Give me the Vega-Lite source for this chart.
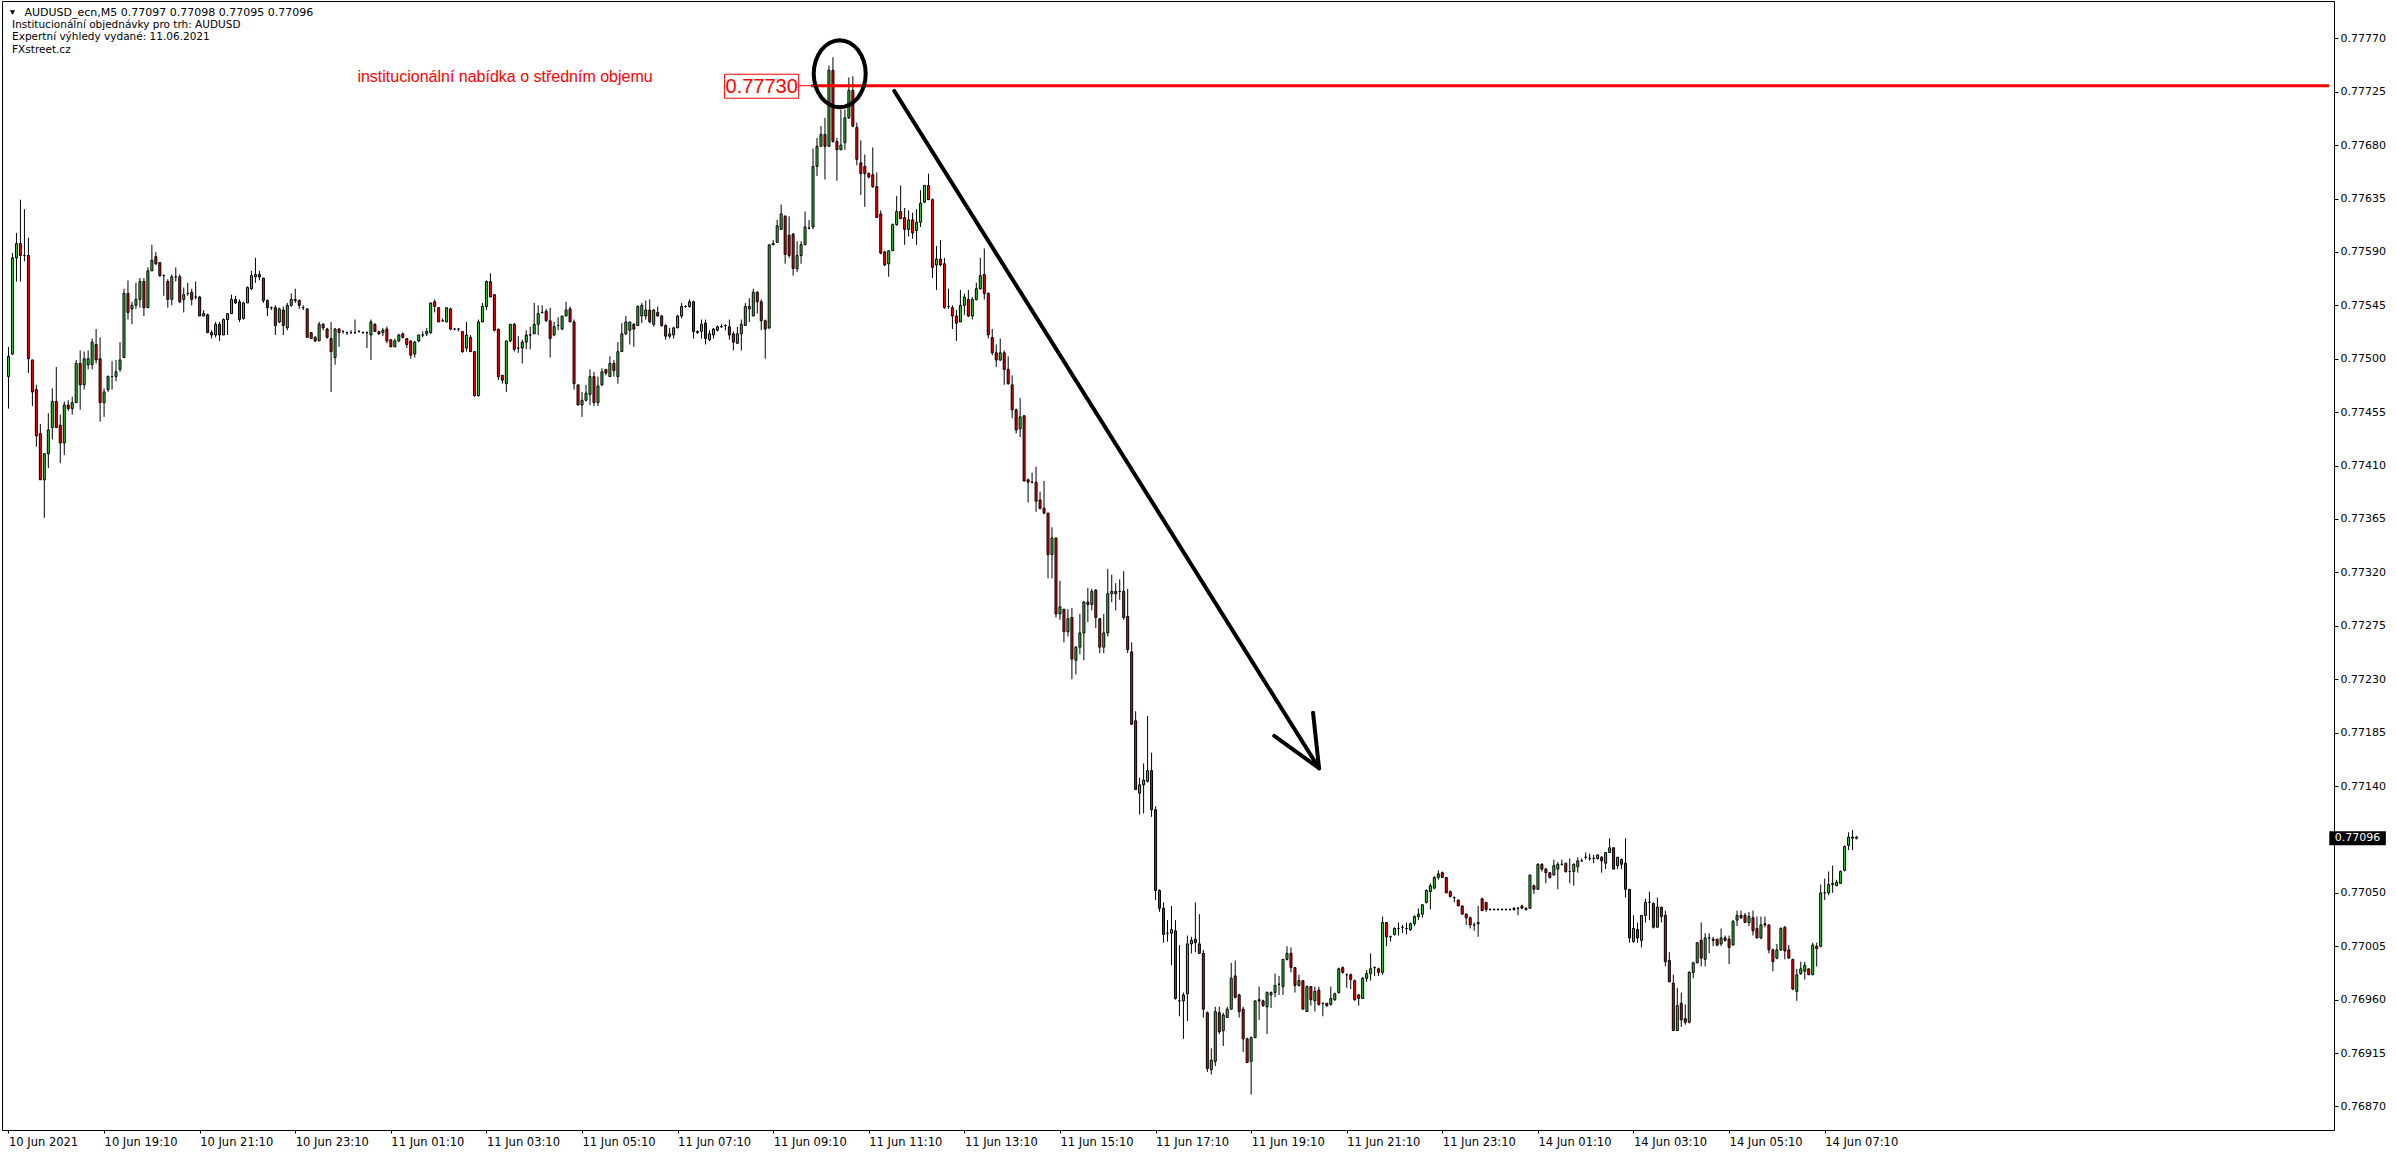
{
"$schema":"https://vega.github.io/schema/vega-lite/v6.json",
"width":2332,"height":1129,
"autosize":{"type":"none"},
"padding":{"left":2,"top":1,"right":62,"bottom":24},
"background":"white",
"config":{"view":{"stroke":"black","strokeWidth":1}},
"data":{"values":[
{"i":0,"o":0.77485,"h":0.7751,"l":0.77458,"c":0.77502},
{"i":1,"o":0.77504,"h":0.77589,"l":0.77503,"c":0.77585},
{"i":2,"o":0.77585,"h":0.77606,"l":0.77565,"c":0.77597},
{"i":3,"o":0.77597,"h":0.77634,"l":0.77565,"c":0.77587},
{"i":4,"o":0.77587,"h":0.77626,"l":0.77582,"c":0.77587},
{"i":5,"o":0.77587,"h":0.77602,"l":0.77488,"c":0.775},
{"i":6,"o":0.77499,"h":0.77499,"l":0.7746,"c":0.77472},
{"i":7,"o":0.77474,"h":0.77478,"l":0.77426,"c":0.77435},
{"i":8,"o":0.77437,"h":0.77445,"l":0.77398,"c":0.77398},
{"i":9,"o":0.77398,"h":0.7742,"l":0.77366,"c":0.7742},
{"i":10,"o":0.7742,"h":0.77454,"l":0.77408,"c":0.7744},
{"i":11,"o":0.77442,"h":0.77475,"l":0.77432,"c":0.77464},
{"i":12,"o":0.77464,"h":0.77493,"l":0.77442,"c":0.77442},
{"i":13,"o":0.77444,"h":0.77453,"l":0.77412,"c":0.77429},
{"i":14,"o":0.77429,"h":0.77464,"l":0.77419,"c":0.77461},
{"i":15,"o":0.77461,"h":0.77465,"l":0.77456,"c":0.77458},
{"i":16,"o":0.77458,"h":0.77468,"l":0.77453,"c":0.77463},
{"i":17,"o":0.77463,"h":0.77499,"l":0.77463,"c":0.77496},
{"i":18,"o":0.77496,"h":0.77507,"l":0.77457,"c":0.77478},
{"i":19,"o":0.77478,"h":0.77506,"l":0.77474,"c":0.775},
{"i":20,"o":0.77495,"h":0.77507,"l":0.77491,"c":0.775},
{"i":21,"o":0.77495,"h":0.77517,"l":0.77491,"c":0.77514},
{"i":22,"o":0.77512,"h":0.77525,"l":0.77496,"c":0.77499},
{"i":23,"o":0.775,"h":0.77518,"l":0.77447,"c":0.77463},
{"i":24,"o":0.77463,"h":0.77475,"l":0.77451,"c":0.77472},
{"i":25,"o":0.77474,"h":0.77486,"l":0.77472,"c":0.77485},
{"i":26,"o":0.77485,"h":0.77498,"l":0.77474,"c":0.77485},
{"i":27,"o":0.77485,"h":0.77499,"l":0.77481,"c":0.77489},
{"i":28,"o":0.77491,"h":0.77514,"l":0.77489,"c":0.77499},
{"i":29,"o":0.77501,"h":0.77559,"l":0.77501,"c":0.77555},
{"i":30,"o":0.77555,"h":0.77566,"l":0.77533,"c":0.77539},
{"i":31,"o":0.77542,"h":0.77548,"l":0.77529,"c":0.77545},
{"i":32,"o":0.77545,"h":0.77564,"l":0.77542,"c":0.7755},
{"i":33,"o":0.7755,"h":0.77568,"l":0.77543,"c":0.77565},
{"i":34,"o":0.77565,"h":0.77568,"l":0.77536,"c":0.77543},
{"i":35,"o":0.77543,"h":0.77577,"l":0.77543,"c":0.77574},
{"i":36,"o":0.77574,"h":0.77596,"l":0.77574,"c":0.77583},
{"i":37,"o":0.77586,"h":0.7759,"l":0.77579,"c":0.7758},
{"i":38,"o":0.77581,"h":0.77581,"l":0.77569,"c":0.7757},
{"i":39,"o":0.7757,"h":0.77571,"l":0.77553,"c":0.7757},
{"i":40,"o":0.77565,"h":0.77567,"l":0.77543,"c":0.7755},
{"i":41,"o":0.7755,"h":0.77571,"l":0.77545,"c":0.77569},
{"i":42,"o":0.77569,"h":0.77577,"l":0.77565,"c":0.77569},
{"i":43,"o":0.77569,"h":0.77571,"l":0.77547,"c":0.77548},
{"i":44,"o":0.7755,"h":0.7756,"l":0.77539,"c":0.77554},
{"i":45,"o":0.77555,"h":0.77564,"l":0.77553,"c":0.77555},
{"i":46,"o":0.77556,"h":0.77559,"l":0.77545,"c":0.7755},
{"i":47,"o":0.77552,"h":0.77565,"l":0.7755,"c":0.77552},
{"i":48,"o":0.77552,"h":0.77553,"l":0.77536,"c":0.77536},
{"i":49,"o":0.77536,"h":0.77541,"l":0.77536,"c":0.77538},
{"i":50,"o":0.77537,"h":0.77538,"l":0.77522,"c":0.77522},
{"i":51,"o":0.77522,"h":0.77524,"l":0.77517,"c":0.7752},
{"i":52,"o":0.7752,"h":0.77531,"l":0.77518,"c":0.77529},
{"i":53,"o":0.77529,"h":0.77531,"l":0.77515,"c":0.7752},
{"i":54,"o":0.7752,"h":0.77534,"l":0.7752,"c":0.77533},
{"i":55,"o":0.77533,"h":0.77538,"l":0.7752,"c":0.77538},
{"i":56,"o":0.77538,"h":0.77554,"l":0.77538,"c":0.7755},
{"i":57,"o":0.7755,"h":0.77553,"l":0.77546,"c":0.77547},
{"i":58,"o":0.77548,"h":0.7755,"l":0.77531,"c":0.77533},
{"i":59,"o":0.77534,"h":0.77548,"l":0.77533,"c":0.77547},
{"i":60,"o":0.77547,"h":0.77561,"l":0.77547,"c":0.7756},
{"i":61,"o":0.77559,"h":0.77574,"l":0.77558,"c":0.7757},
{"i":62,"o":0.77569,"h":0.77585,"l":0.77564,"c":0.77571},
{"i":63,"o":0.77571,"h":0.77574,"l":0.77566,"c":0.77569},
{"i":64,"o":0.77568,"h":0.77568,"l":0.77547,"c":0.77549},
{"i":65,"o":0.77549,"h":0.7755,"l":0.77536,"c":0.77543},
{"i":66,"o":0.77543,"h":0.77544,"l":0.77541,"c":0.77543},
{"i":67,"o":0.77543,"h":0.77545,"l":0.7752,"c":0.77528},
{"i":68,"o":0.77531,"h":0.77543,"l":0.7753,"c":0.77542},
{"i":69,"o":0.77541,"h":0.77544,"l":0.7752,"c":0.77528},
{"i":70,"o":0.77526,"h":0.77547,"l":0.77524,"c":0.77545},
{"i":71,"o":0.77545,"h":0.77555,"l":0.77544,"c":0.7755},
{"i":72,"o":0.7755,"h":0.77559,"l":0.77547,"c":0.77549},
{"i":73,"o":0.77549,"h":0.7755,"l":0.77542,"c":0.77545},
{"i":74,"o":0.77543,"h":0.77545,"l":0.77541,"c":0.77543},
{"i":75,"o":0.77542,"h":0.77542,"l":0.77518,"c":0.77518},
{"i":76,"o":0.77522,"h":0.77522,"l":0.77517,"c":0.77517},
{"i":77,"o":0.77518,"h":0.77519,"l":0.77514,"c":0.77515},
{"i":78,"o":0.77515,"h":0.77531,"l":0.77515,"c":0.77529},
{"i":79,"o":0.77529,"h":0.7753,"l":0.77524,"c":0.77526},
{"i":80,"o":0.77525,"h":0.77526,"l":0.77517,"c":0.77518},
{"i":81,"o":0.77517,"h":0.77531,"l":0.77472,"c":0.77506},
{"i":82,"o":0.77501,"h":0.77526,"l":0.77495,"c":0.77525},
{"i":83,"o":0.77525,"h":0.77526,"l":0.7751,"c":0.77522},
{"i":84,"o":0.77523,"h":0.77524,"l":0.77521,"c":0.77523},
{"i":85,"o":0.77522,"h":0.77523,"l":0.7752,"c":0.77522},
{"i":86,"o":0.77522,"h":0.77524,"l":0.77521,"c":0.77522},
{"i":87,"o":0.77522,"h":0.77533,"l":0.77521,"c":0.77522},
{"i":88,"o":0.77523,"h":0.77524,"l":0.77522,"c":0.77523},
{"i":89,"o":0.77522,"h":0.77523,"l":0.77521,"c":0.77522},
{"i":90,"o":0.77522,"h":0.77523,"l":0.77509,"c":0.77522},
{"i":91,"o":0.7752,"h":0.77533,"l":0.77499,"c":0.77531},
{"i":92,"o":0.77529,"h":0.7753,"l":0.77523,"c":0.77523},
{"i":93,"o":0.77523,"h":0.77523,"l":0.7752,"c":0.77521},
{"i":94,"o":0.77522,"h":0.77526,"l":0.77519,"c":0.77524},
{"i":95,"o":0.77525,"h":0.77527,"l":0.77513,"c":0.77515},
{"i":96,"o":0.77516,"h":0.77516,"l":0.7751,"c":0.7751},
{"i":97,"o":0.7751,"h":0.77517,"l":0.7751,"c":0.77515},
{"i":98,"o":0.77515,"h":0.77521,"l":0.77514,"c":0.7752},
{"i":99,"o":0.77521,"h":0.77522,"l":0.77517,"c":0.77518},
{"i":100,"o":0.77517,"h":0.77517,"l":0.77509,"c":0.77512},
{"i":101,"o":0.77515,"h":0.77515,"l":0.775,"c":0.77503},
{"i":102,"o":0.77504,"h":0.77515,"l":0.77501,"c":0.77514},
{"i":103,"o":0.77515,"h":0.7752,"l":0.77514,"c":0.7752},
{"i":104,"o":0.7752,"h":0.77523,"l":0.77518,"c":0.7752},
{"i":105,"o":0.77521,"h":0.77526,"l":0.77519,"c":0.77523},
{"i":106,"o":0.77522,"h":0.77547,"l":0.77521,"c":0.77547},
{"i":107,"o":0.77548,"h":0.7755,"l":0.77539,"c":0.77544},
{"i":108,"o":0.77543,"h":0.77543,"l":0.77531,"c":0.77531},
{"i":109,"o":0.77532,"h":0.77534,"l":0.77531,"c":0.77532},
{"i":110,"o":0.77531,"h":0.77543,"l":0.77531,"c":0.77543},
{"i":111,"o":0.77542,"h":0.77543,"l":0.77524,"c":0.77525},
{"i":112,"o":0.77525,"h":0.77526,"l":0.77524,"c":0.77525},
{"i":113,"o":0.77525,"h":0.77526,"l":0.77523,"c":0.77525},
{"i":114,"o":0.77523,"h":0.77523,"l":0.77505,"c":0.77506},
{"i":115,"o":0.77509,"h":0.77531,"l":0.77506,"c":0.7752},
{"i":116,"o":0.77518,"h":0.7752,"l":0.77506,"c":0.77506},
{"i":117,"o":0.77506,"h":0.77506,"l":0.77468,"c":0.77469},
{"i":118,"o":0.77469,"h":0.77533,"l":0.77468,"c":0.77531},
{"i":119,"o":0.77531,"h":0.77547,"l":0.77531,"c":0.77544},
{"i":120,"o":0.77544,"h":0.77566,"l":0.77541,"c":0.77565},
{"i":121,"o":0.77565,"h":0.77572,"l":0.77552,"c":0.77552},
{"i":122,"o":0.77554,"h":0.77554,"l":0.77523,"c":0.77524},
{"i":123,"o":0.77525,"h":0.77525,"l":0.77482,"c":0.77485},
{"i":124,"o":0.77486,"h":0.77486,"l":0.77479,"c":0.77482},
{"i":125,"o":0.77479,"h":0.77515,"l":0.77472,"c":0.77515},
{"i":126,"o":0.77515,"h":0.77529,"l":0.77514,"c":0.77529},
{"i":127,"o":0.77529,"h":0.7753,"l":0.77506,"c":0.77508},
{"i":128,"o":0.77509,"h":0.77519,"l":0.77505,"c":0.77509},
{"i":129,"o":0.77509,"h":0.77516,"l":0.77496,"c":0.77514},
{"i":130,"o":0.77514,"h":0.77524,"l":0.77508,"c":0.7752},
{"i":131,"o":0.7752,"h":0.77527,"l":0.77508,"c":0.7752},
{"i":132,"o":0.77521,"h":0.77547,"l":0.77521,"c":0.77529},
{"i":133,"o":0.77529,"h":0.77545,"l":0.7752,"c":0.77538},
{"i":134,"o":0.77539,"h":0.77545,"l":0.77538,"c":0.77539},
{"i":135,"o":0.7754,"h":0.77542,"l":0.77531,"c":0.77532},
{"i":136,"o":0.77532,"h":0.77543,"l":0.77501,"c":0.77517},
{"i":137,"o":0.7752,"h":0.77531,"l":0.77519,"c":0.77527},
{"i":138,"o":0.77528,"h":0.77535,"l":0.77524,"c":0.77528},
{"i":139,"o":0.77525,"h":0.77536,"l":0.77524,"c":0.77536},
{"i":140,"o":0.77536,"h":0.77548,"l":0.77536,"c":0.77541},
{"i":141,"o":0.77542,"h":0.77544,"l":0.77531,"c":0.77531},
{"i":142,"o":0.77531,"h":0.77533,"l":0.77474,"c":0.77479},
{"i":143,"o":0.77478,"h":0.77478,"l":0.77461,"c":0.77461},
{"i":144,"o":0.77461,"h":0.77472,"l":0.77451,"c":0.77465},
{"i":145,"o":0.77465,"h":0.77478,"l":0.77464,"c":0.77471},
{"i":146,"o":0.7747,"h":0.77491,"l":0.77461,"c":0.77485},
{"i":147,"o":0.77485,"h":0.77489,"l":0.7746,"c":0.77463},
{"i":148,"o":0.77463,"h":0.77485,"l":0.7746,"c":0.77477},
{"i":149,"o":0.77478,"h":0.77492,"l":0.77477,"c":0.77489},
{"i":150,"o":0.77491,"h":0.77491,"l":0.77486,"c":0.77488},
{"i":151,"o":0.77485,"h":0.77502,"l":0.77485,"c":0.77496},
{"i":152,"o":0.77496,"h":0.77499,"l":0.77485,"c":0.7749},
{"i":153,"o":0.77485,"h":0.77514,"l":0.77479,"c":0.77506},
{"i":154,"o":0.77506,"h":0.7753,"l":0.77506,"c":0.77521},
{"i":155,"o":0.77521,"h":0.77536,"l":0.7752,"c":0.77531},
{"i":156,"o":0.77524,"h":0.77531,"l":0.77512,"c":0.77531},
{"i":157,"o":0.77529,"h":0.7753,"l":0.7751,"c":0.77525},
{"i":158,"o":0.77528,"h":0.77545,"l":0.77528,"c":0.77544},
{"i":159,"o":0.77536,"h":0.77547,"l":0.7753,"c":0.77545},
{"i":160,"o":0.77536,"h":0.77549,"l":0.77533,"c":0.77541},
{"i":161,"o":0.77541,"h":0.7755,"l":0.7753,"c":0.77531},
{"i":162,"o":0.77529,"h":0.77542,"l":0.77527,"c":0.77541},
{"i":163,"o":0.77539,"h":0.77544,"l":0.77536,"c":0.77536},
{"i":164,"o":0.77536,"h":0.77537,"l":0.77527,"c":0.77528},
{"i":165,"o":0.77528,"h":0.77529,"l":0.77516,"c":0.77519},
{"i":166,"o":0.77519,"h":0.77526,"l":0.77517,"c":0.77521},
{"i":167,"o":0.7752,"h":0.77527,"l":0.77517,"c":0.77526},
{"i":168,"o":0.77526,"h":0.77537,"l":0.77526,"c":0.77536},
{"i":169,"o":0.77536,"h":0.77547,"l":0.77534,"c":0.77544},
{"i":170,"o":0.77544,"h":0.77545,"l":0.77543,"c":0.77544},
{"i":171,"o":0.77544,"h":0.7755,"l":0.77543,"c":0.77548},
{"i":172,"o":0.77548,"h":0.77549,"l":0.77517,"c":0.77523},
{"i":173,"o":0.77523,"h":0.77524,"l":0.77521,"c":0.77522},
{"i":174,"o":0.77523,"h":0.77533,"l":0.77517,"c":0.77529},
{"i":175,"o":0.7753,"h":0.77533,"l":0.77512,"c":0.77517},
{"i":176,"o":0.77516,"h":0.77524,"l":0.77515,"c":0.77521},
{"i":177,"o":0.7752,"h":0.77526,"l":0.77517,"c":0.77525},
{"i":178,"o":0.77524,"h":0.77528,"l":0.77523,"c":0.77527},
{"i":179,"o":0.77527,"h":0.77529,"l":0.77526,"c":0.77527},
{"i":180,"o":0.77528,"h":0.77529,"l":0.77524,"c":0.77528},
{"i":181,"o":0.77527,"h":0.77533,"l":0.77516,"c":0.7752},
{"i":182,"o":0.77521,"h":0.77523,"l":0.77507,"c":0.77514},
{"i":183,"o":0.77513,"h":0.77527,"l":0.77513,"c":0.77521},
{"i":184,"o":0.77521,"h":0.77533,"l":0.77507,"c":0.77529},
{"i":185,"o":0.77528,"h":0.77547,"l":0.77528,"c":0.77544},
{"i":186,"o":0.77542,"h":0.77551,"l":0.77531,"c":0.77544},
{"i":187,"o":0.77536,"h":0.77559,"l":0.77536,"c":0.77556},
{"i":188,"o":0.77556,"h":0.77557,"l":0.77538,"c":0.77548},
{"i":189,"o":0.77548,"h":0.7755,"l":0.77524,"c":0.77532},
{"i":190,"o":0.77532,"h":0.77533,"l":0.775,"c":0.77525},
{"i":191,"o":0.77526,"h":0.77596,"l":0.77525,"c":0.77596},
{"i":192,"o":0.77596,"h":0.776,"l":0.77596,"c":0.77597},
{"i":193,"o":0.77598,"h":0.77617,"l":0.77598,"c":0.77612},
{"i":194,"o":0.77609,"h":0.7763,"l":0.77609,"c":0.77622},
{"i":195,"o":0.7762,"h":0.77621,"l":0.7758,"c":0.77588},
{"i":196,"o":0.77604,"h":0.7762,"l":0.77585,"c":0.77587},
{"i":197,"o":0.77605,"h":0.77606,"l":0.7757,"c":0.77576},
{"i":198,"o":0.77576,"h":0.77599,"l":0.77573,"c":0.77587},
{"i":199,"o":0.77587,"h":0.77599,"l":0.7758,"c":0.77596},
{"i":200,"o":0.77596,"h":0.77624,"l":0.77596,"c":0.77611},
{"i":201,"o":0.7761,"h":0.77617,"l":0.77609,"c":0.7761},
{"i":202,"o":0.77611,"h":0.77677,"l":0.77609,"c":0.77662},
{"i":203,"o":0.77662,"h":0.77686,"l":0.77654,"c":0.77679},
{"i":204,"o":0.77679,"h":0.77696,"l":0.77679,"c":0.77689},
{"i":205,"o":0.77689,"h":0.77703,"l":0.77651,"c":0.77679},
{"i":206,"o":0.77679,"h":0.77747,"l":0.77679,"c":0.77743},
{"i":207,"o":0.77743,"h":0.77754,"l":0.77682,"c":0.77683},
{"i":208,"o":0.77683,"h":0.77686,"l":0.7765,"c":0.77676},
{"i":209,"o":0.77676,"h":0.7771,"l":0.77676,"c":0.7768},
{"i":210,"o":0.77682,"h":0.7771,"l":0.77676,"c":0.77703},
{"i":211,"o":0.77703,"h":0.77737,"l":0.77702,"c":0.77726},
{"i":212,"o":0.77726,"h":0.77738,"l":0.77695,"c":0.77696},
{"i":213,"o":0.77695,"h":0.77699,"l":0.77663,"c":0.77668},
{"i":214,"o":0.77665,"h":0.77684,"l":0.77638,"c":0.77656},
{"i":215,"o":0.77662,"h":0.77672,"l":0.77628,"c":0.77656},
{"i":216,"o":0.77656,"h":0.77657,"l":0.77652,"c":0.77653},
{"i":217,"o":0.77655,"h":0.77678,"l":0.77644,"c":0.77645},
{"i":218,"o":0.77645,"h":0.77657,"l":0.77619,"c":0.77619},
{"i":219,"o":0.77622,"h":0.77625,"l":0.77588,"c":0.77589},
{"i":220,"o":0.7759,"h":0.77591,"l":0.77578,"c":0.77579},
{"i":221,"o":0.7758,"h":0.77591,"l":0.77569,"c":0.77591},
{"i":222,"o":0.77591,"h":0.77614,"l":0.77591,"c":0.77613},
{"i":223,"o":0.77613,"h":0.77637,"l":0.77612,"c":0.77624},
{"i":224,"o":0.77624,"h":0.77646,"l":0.77618,"c":0.77618},
{"i":225,"o":0.77619,"h":0.77627,"l":0.77596,"c":0.77609},
{"i":226,"o":0.77609,"h":0.77625,"l":0.77603,"c":0.77617},
{"i":227,"o":0.77617,"h":0.77623,"l":0.77601,"c":0.77606},
{"i":228,"o":0.77608,"h":0.77626,"l":0.77596,"c":0.77615},
{"i":229,"o":0.77615,"h":0.77642,"l":0.77611,"c":0.77631},
{"i":230,"o":0.77632,"h":0.77646,"l":0.77631,"c":0.77646},
{"i":231,"o":0.77646,"h":0.77656,"l":0.77634,"c":0.77634},
{"i":232,"o":0.77634,"h":0.77635,"l":0.77568,"c":0.77577},
{"i":233,"o":0.77579,"h":0.77595,"l":0.77558,"c":0.77584},
{"i":234,"o":0.77584,"h":0.776,"l":0.77578,"c":0.77579},
{"i":235,"o":0.7758,"h":0.77585,"l":0.77542,"c":0.77543},
{"i":236,"o":0.77544,"h":0.77559,"l":0.77542,"c":0.77544},
{"i":237,"o":0.77543,"h":0.77545,"l":0.77525,"c":0.77536},
{"i":238,"o":0.77536,"h":0.77541,"l":0.77515,"c":0.7753},
{"i":239,"o":0.77531,"h":0.77558,"l":0.77531,"c":0.77545},
{"i":240,"o":0.77545,"h":0.77555,"l":0.77537,"c":0.77552},
{"i":241,"o":0.7755,"h":0.77558,"l":0.77535,"c":0.77536},
{"i":242,"o":0.77536,"h":0.77552,"l":0.77533,"c":0.7755},
{"i":243,"o":0.7755,"h":0.77564,"l":0.77549,"c":0.77559},
{"i":244,"o":0.77559,"h":0.77585,"l":0.77558,"c":0.7757},
{"i":245,"o":0.77571,"h":0.77593,"l":0.7755,"c":0.77555},
{"i":246,"o":0.77555,"h":0.77556,"l":0.77517,"c":0.7752},
{"i":247,"o":0.77518,"h":0.77525,"l":0.77503,"c":0.77505},
{"i":248,"o":0.77505,"h":0.77512,"l":0.77493,"c":0.77499},
{"i":249,"o":0.77499,"h":0.77517,"l":0.77498,"c":0.77505},
{"i":250,"o":0.77505,"h":0.77507,"l":0.77478,"c":0.77491},
{"i":251,"o":0.77491,"h":0.77502,"l":0.77478,"c":0.77479},
{"i":252,"o":0.77478,"h":0.77486,"l":0.7745,"c":0.77457},
{"i":253,"o":0.77457,"h":0.77458,"l":0.77437,"c":0.7744},
{"i":254,"o":0.77441,"h":0.77467,"l":0.77434,"c":0.77451},
{"i":255,"o":0.77452,"h":0.77452,"l":0.77397,"c":0.77397},
{"i":256,"o":0.77398,"h":0.77399,"l":0.77379,"c":0.77396},
{"i":257,"o":0.77396,"h":0.77404,"l":0.77395,"c":0.77396},
{"i":258,"o":0.77396,"h":0.77409,"l":0.77371,"c":0.7738},
{"i":259,"o":0.77381,"h":0.77388,"l":0.77373,"c":0.77374},
{"i":260,"o":0.77374,"h":0.77397,"l":0.77369,"c":0.7737},
{"i":261,"o":0.7737,"h":0.7737,"l":0.77315,"c":0.77335},
{"i":262,"o":0.77335,"h":0.77358,"l":0.77315,"c":0.77349},
{"i":263,"o":0.77349,"h":0.77349,"l":0.77282,"c":0.77285},
{"i":264,"o":0.77285,"h":0.77313,"l":0.7728,"c":0.77291},
{"i":265,"o":0.77289,"h":0.77289,"l":0.77261,"c":0.7727},
{"i":266,"o":0.7727,"h":0.77289,"l":0.77266,"c":0.77281},
{"i":267,"o":0.77282,"h":0.7729,"l":0.7723,"c":0.77247},
{"i":268,"o":0.77246,"h":0.77258,"l":0.77234,"c":0.77257},
{"i":269,"o":0.77257,"h":0.77285,"l":0.77251,"c":0.77269},
{"i":270,"o":0.77269,"h":0.77296,"l":0.77246,"c":0.77295},
{"i":271,"o":0.77295,"h":0.77307,"l":0.77278,"c":0.77293},
{"i":272,"o":0.77293,"h":0.77306,"l":0.77288,"c":0.77304},
{"i":273,"o":0.77305,"h":0.77306,"l":0.77273,"c":0.77282},
{"i":274,"o":0.77281,"h":0.77281,"l":0.77252,"c":0.77257},
{"i":275,"o":0.77257,"h":0.77285,"l":0.77252,"c":0.77269},
{"i":276,"o":0.77269,"h":0.77323,"l":0.77266,"c":0.77302},
{"i":277,"o":0.77302,"h":0.77318,"l":0.77295,"c":0.77304},
{"i":278,"o":0.77304,"h":0.77311,"l":0.77288,"c":0.77302},
{"i":279,"o":0.77304,"h":0.77314,"l":0.77297,"c":0.77304},
{"i":280,"o":0.77304,"h":0.77321,"l":0.7728,"c":0.77282},
{"i":281,"o":0.77283,"h":0.77306,"l":0.77252,"c":0.77255},
{"i":282,"o":0.77253,"h":0.77261,"l":0.77192,"c":0.77192},
{"i":283,"o":0.77195,"h":0.77203,"l":0.77137,"c":0.77137},
{"i":284,"o":0.77134,"h":0.77147,"l":0.77116,"c":0.77141},
{"i":285,"o":0.77141,"h":0.77159,"l":0.77117,"c":0.77145},
{"i":286,"o":0.77144,"h":0.77199,"l":0.77143,"c":0.77153},
{"i":287,"o":0.77153,"h":0.77168,"l":0.77114,"c":0.7712},
{"i":288,"o":0.7712,"h":0.77123,"l":0.77044,"c":0.77052},
{"i":289,"o":0.77052,"h":0.77053,"l":0.77034,"c":0.77037},
{"i":290,"o":0.77037,"h":0.77042,"l":0.77008,"c":0.77015},
{"i":291,"o":0.77016,"h":0.77027,"l":0.77009,"c":0.77016},
{"i":292,"o":0.77016,"h":0.77039,"l":0.76989,"c":0.77019},
{"i":293,"o":0.77018,"h":0.77027,"l":0.7696,"c":0.76961},
{"i":294,"o":0.76959,"h":0.77006,"l":0.76946,"c":0.76959},
{"i":295,"o":0.76959,"h":0.76966,"l":0.76927,"c":0.76964},
{"i":296,"o":0.76965,"h":0.77014,"l":0.76942,"c":0.77007},
{"i":297,"o":0.77007,"h":0.77013,"l":0.76999,"c":0.7701},
{"i":298,"o":0.77011,"h":0.77042,"l":0.77,"c":0.77008},
{"i":299,"o":0.77007,"h":0.77032,"l":0.76999,"c":0.76999},
{"i":300,"o":0.76999,"h":0.77002,"l":0.76945,"c":0.76952},
{"i":301,"o":0.76949,"h":0.7695,"l":0.76899,"c":0.76902},
{"i":302,"o":0.76901,"h":0.76919,"l":0.76897,"c":0.76909},
{"i":303,"o":0.76908,"h":0.76954,"l":0.76904,"c":0.7695},
{"i":304,"o":0.76949,"h":0.76954,"l":0.76931,"c":0.76933},
{"i":305,"o":0.76934,"h":0.76949,"l":0.76921,"c":0.76947},
{"i":306,"o":0.76945,"h":0.76954,"l":0.76945,"c":0.76952},
{"i":307,"o":0.76952,"h":0.76991,"l":0.76952,"c":0.76978},
{"i":308,"o":0.7698,"h":0.76993,"l":0.76961,"c":0.76962},
{"i":309,"o":0.76964,"h":0.76965,"l":0.76945,"c":0.7695},
{"i":310,"o":0.76952,"h":0.76954,"l":0.76916,"c":0.76927},
{"i":311,"o":0.76927,"h":0.76928,"l":0.76907,"c":0.76907},
{"i":312,"o":0.76908,"h":0.76929,"l":0.7688,"c":0.76928},
{"i":313,"o":0.76928,"h":0.76959,"l":0.76928,"c":0.76959},
{"i":314,"o":0.76959,"h":0.76971,"l":0.76943,"c":0.7696},
{"i":315,"o":0.76959,"h":0.7696,"l":0.76954,"c":0.76955},
{"i":316,"o":0.76954,"h":0.76967,"l":0.76931,"c":0.76966},
{"i":317,"o":0.76964,"h":0.76967,"l":0.76953,"c":0.76966},
{"i":318,"o":0.76966,"h":0.76982,"l":0.76962,"c":0.76972},
{"i":319,"o":0.76973,"h":0.7698,"l":0.76964,"c":0.76973},
{"i":320,"o":0.76971,"h":0.76994,"l":0.76964,"c":0.76994},
{"i":321,"o":0.76994,"h":0.77005,"l":0.76993,"c":0.76999},
{"i":322,"o":0.76999,"h":0.77004,"l":0.76983,"c":0.76987},
{"i":323,"o":0.76987,"h":0.76987,"l":0.76966,"c":0.76972},
{"i":324,"o":0.76972,"h":0.76981,"l":0.76971,"c":0.76976},
{"i":325,"o":0.76976,"h":0.76976,"l":0.76952,"c":0.76952},
{"i":326,"o":0.7695,"h":0.76972,"l":0.7695,"c":0.76971},
{"i":327,"o":0.76971,"h":0.76971,"l":0.76955,"c":0.7696},
{"i":328,"o":0.76959,"h":0.76971,"l":0.7695,"c":0.76967},
{"i":329,"o":0.76968,"h":0.76971,"l":0.76955,"c":0.76956},
{"i":330,"o":0.76957,"h":0.76957,"l":0.76946,"c":0.76957},
{"i":331,"o":0.76957,"h":0.76957,"l":0.76954,"c":0.76955},
{"i":332,"o":0.76956,"h":0.76971,"l":0.76955,"c":0.76961},
{"i":333,"o":0.7696,"h":0.76966,"l":0.76959,"c":0.76965},
{"i":334,"o":0.76966,"h":0.76987,"l":0.76965,"c":0.76986},
{"i":335,"o":0.76987,"h":0.76988,"l":0.76982,"c":0.76983},
{"i":336,"o":0.76981,"h":0.76982,"l":0.7697,"c":0.76981},
{"i":337,"o":0.76981,"h":0.76982,"l":0.76969,"c":0.76977},
{"i":338,"o":0.76976,"h":0.76977,"l":0.76959,"c":0.7696},
{"i":339,"o":0.76964,"h":0.76965,"l":0.76955,"c":0.76961},
{"i":340,"o":0.76961,"h":0.76979,"l":0.76961,"c":0.76978},
{"i":341,"o":0.76978,"h":0.76985,"l":0.76975,"c":0.76982},
{"i":342,"o":0.76982,"h":0.76999,"l":0.76976,"c":0.76986},
{"i":343,"o":0.76987,"h":0.76988,"l":0.7698,"c":0.76987},
{"i":344,"o":0.76986,"h":0.76987,"l":0.7698,"c":0.76983},
{"i":345,"o":0.76983,"h":0.7703,"l":0.76981,"c":0.77025},
{"i":346,"o":0.77025,"h":0.77025,"l":0.77005,"c":0.77013},
{"i":347,"o":0.77013,"h":0.77014,"l":0.77009,"c":0.77013},
{"i":348,"o":0.77015,"h":0.77021,"l":0.77014,"c":0.7702},
{"i":349,"o":0.7702,"h":0.77025,"l":0.77014,"c":0.7702},
{"i":350,"o":0.77021,"h":0.77023,"l":0.77016,"c":0.77021},
{"i":351,"o":0.7702,"h":0.77025,"l":0.77015,"c":0.7702},
{"i":352,"o":0.77019,"h":0.77025,"l":0.77018,"c":0.77024},
{"i":353,"o":0.77024,"h":0.77031,"l":0.77022,"c":0.7703},
{"i":354,"o":0.7703,"h":0.77037,"l":0.77027,"c":0.77032},
{"i":355,"o":0.77032,"h":0.7704,"l":0.77029,"c":0.7704},
{"i":356,"o":0.77042,"h":0.77053,"l":0.77041,"c":0.77052},
{"i":357,"o":0.77051,"h":0.77058,"l":0.77036,"c":0.77056},
{"i":358,"o":0.77054,"h":0.77064,"l":0.77053,"c":0.77063},
{"i":359,"o":0.77063,"h":0.77069,"l":0.77061,"c":0.77066},
{"i":360,"o":0.77067,"h":0.77068,"l":0.77063,"c":0.77063},
{"i":361,"o":0.77063,"h":0.77063,"l":0.7705,"c":0.7705},
{"i":362,"o":0.77051,"h":0.77052,"l":0.77046,"c":0.77047},
{"i":363,"o":0.77046,"h":0.77047,"l":0.77042,"c":0.77046},
{"i":364,"o":0.77044,"h":0.77044,"l":0.77039,"c":0.77039},
{"i":365,"o":0.77039,"h":0.77039,"l":0.77032,"c":0.77032},
{"i":366,"o":0.77032,"h":0.77033,"l":0.77023,"c":0.77029},
{"i":367,"o":0.77029,"h":0.7703,"l":0.7702,"c":0.77023},
{"i":368,"o":0.77023,"h":0.77025,"l":0.77018,"c":0.77023},
{"i":369,"o":0.77024,"h":0.77039,"l":0.77013,"c":0.77025},
{"i":370,"o":0.77045,"h":0.77046,"l":0.77035,"c":0.77035},
{"i":371,"o":0.77042,"h":0.77042,"l":0.77034,"c":0.77036},
{"i":372,"o":0.77036,"h":0.77037,"l":0.77035,"c":0.77036},
{"i":373,"o":0.77036,"h":0.77037,"l":0.77035,"c":0.77036},
{"i":374,"o":0.77036,"h":0.77037,"l":0.77035,"c":0.77036},
{"i":375,"o":0.77036,"h":0.77037,"l":0.77035,"c":0.77036},
{"i":376,"o":0.77036,"h":0.77037,"l":0.77035,"c":0.77036},
{"i":377,"o":0.77036,"h":0.77037,"l":0.77035,"c":0.77036},
{"i":378,"o":0.77037,"h":0.77038,"l":0.77035,"c":0.77036},
{"i":379,"o":0.77037,"h":0.77038,"l":0.77031,"c":0.77037},
{"i":380,"o":0.77039,"h":0.7704,"l":0.77037,"c":0.77037},
{"i":381,"o":0.77037,"h":0.77038,"l":0.77035,"c":0.77036},
{"i":382,"o":0.77037,"h":0.77065,"l":0.77037,"c":0.77065},
{"i":383,"o":0.77056,"h":0.77057,"l":0.77049,"c":0.77053},
{"i":384,"o":0.77053,"h":0.77075,"l":0.77053,"c":0.77074},
{"i":385,"o":0.77074,"h":0.77075,"l":0.77068,"c":0.7707},
{"i":386,"o":0.7707,"h":0.77071,"l":0.77058,"c":0.77067},
{"i":387,"o":0.77067,"h":0.77067,"l":0.77062,"c":0.77063},
{"i":388,"o":0.77065,"h":0.77078,"l":0.77065,"c":0.77073},
{"i":389,"o":0.7707,"h":0.77076,"l":0.77053,"c":0.77074},
{"i":390,"o":0.77074,"h":0.77078,"l":0.77073,"c":0.77074},
{"i":391,"o":0.77075,"h":0.77075,"l":0.77067,"c":0.77068},
{"i":392,"o":0.77068,"h":0.77079,"l":0.77058,"c":0.77068},
{"i":393,"o":0.77068,"h":0.77075,"l":0.77056,"c":0.77074},
{"i":394,"o":0.77072,"h":0.7708,"l":0.77067,"c":0.77077},
{"i":395,"o":0.77077,"h":0.77079,"l":0.77076,"c":0.77077},
{"i":396,"o":0.7708,"h":0.77084,"l":0.77078,"c":0.7708},
{"i":397,"o":0.77079,"h":0.77083,"l":0.77077,"c":0.77079},
{"i":398,"o":0.77079,"h":0.77082,"l":0.77075,"c":0.77079},
{"i":399,"o":0.77079,"h":0.77082,"l":0.77078,"c":0.77082},
{"i":400,"o":0.7708,"h":0.77081,"l":0.77067,"c":0.77077},
{"i":401,"o":0.77075,"h":0.77084,"l":0.7707,"c":0.77084},
{"i":402,"o":0.77084,"h":0.77096,"l":0.77084,"c":0.77088},
{"i":403,"o":0.77088,"h":0.77088,"l":0.7707,"c":0.7707},
{"i":404,"o":0.77073,"h":0.7708,"l":0.7707,"c":0.7708},
{"i":405,"o":0.77078,"h":0.77079,"l":0.7707,"c":0.77074},
{"i":406,"o":0.77075,"h":0.77096,"l":0.77046,"c":0.77053},
{"i":407,"o":0.77053,"h":0.77053,"l":0.77008,"c":0.77012},
{"i":408,"o":0.77009,"h":0.77031,"l":0.77008,"c":0.7702},
{"i":409,"o":0.77019,"h":0.77025,"l":0.77008,"c":0.77012},
{"i":410,"o":0.7701,"h":0.77031,"l":0.77004,"c":0.77031},
{"i":411,"o":0.77031,"h":0.77045,"l":0.77025,"c":0.77042},
{"i":412,"o":0.77042,"h":0.77051,"l":0.77027,"c":0.77042},
{"i":413,"o":0.77041,"h":0.77042,"l":0.7702,"c":0.77021},
{"i":414,"o":0.77021,"h":0.77046,"l":0.77021,"c":0.77038},
{"i":415,"o":0.77038,"h":0.77038,"l":0.77025,"c":0.7703},
{"i":416,"o":0.77031,"h":0.77035,"l":0.76988,"c":0.76992},
{"i":417,"o":0.76993,"h":0.77,"l":0.76975,"c":0.76975},
{"i":418,"o":0.76974,"h":0.76981,"l":0.76934,"c":0.76934},
{"i":419,"o":0.76934,"h":0.7697,"l":0.76934,"c":0.76955},
{"i":420,"o":0.76957,"h":0.76966,"l":0.76937,"c":0.76943},
{"i":421,"o":0.76944,"h":0.76956,"l":0.76939,"c":0.76941},
{"i":422,"o":0.76941,"h":0.76984,"l":0.7694,"c":0.76983},
{"i":423,"o":0.76983,"h":0.76992,"l":0.76978,"c":0.76991},
{"i":424,"o":0.76991,"h":0.77008,"l":0.76991,"c":0.77008},
{"i":425,"o":0.7701,"h":0.77025,"l":0.76988,"c":0.76995},
{"i":426,"o":0.76994,"h":0.77016,"l":0.76988,"c":0.77012},
{"i":427,"o":0.77012,"h":0.77016,"l":0.76999,"c":0.77012},
{"i":428,"o":0.77011,"h":0.77013,"l":0.77005,"c":0.7701},
{"i":429,"o":0.77011,"h":0.77011,"l":0.77005,"c":0.77006},
{"i":430,"o":0.77007,"h":0.7702,"l":0.77005,"c":0.77012},
{"i":431,"o":0.77012,"h":0.77014,"l":0.77009,"c":0.7701},
{"i":432,"o":0.77011,"h":0.77014,"l":0.7699,"c":0.77004},
{"i":433,"o":0.77006,"h":0.77027,"l":0.77006,"c":0.77026},
{"i":434,"o":0.77027,"h":0.77035,"l":0.77022,"c":0.77031},
{"i":435,"o":0.77031,"h":0.77035,"l":0.77028,"c":0.77029},
{"i":436,"o":0.77031,"h":0.77033,"l":0.77025,"c":0.77025},
{"i":437,"o":0.77025,"h":0.77034,"l":0.77022,"c":0.7703},
{"i":438,"o":0.77029,"h":0.77035,"l":0.77014,"c":0.77018},
{"i":439,"o":0.7702,"h":0.7703,"l":0.77012,"c":0.77012},
{"i":440,"o":0.77012,"h":0.7703,"l":0.77011,"c":0.77023},
{"i":441,"o":0.77023,"h":0.7703,"l":0.77021,"c":0.77024},
{"i":442,"o":0.77023,"h":0.77023,"l":0.76999,"c":0.77002},
{"i":443,"o":0.77002,"h":0.77003,"l":0.76984,"c":0.76992},
{"i":444,"o":0.76995,"h":0.77007,"l":0.76994,"c":0.77002},
{"i":445,"o":0.77002,"h":0.77021,"l":0.77001,"c":0.7702},
{"i":446,"o":0.77021,"h":0.77022,"l":0.76994,"c":0.77001},
{"i":447,"o":0.77002,"h":0.77006,"l":0.76995,"c":0.76995},
{"i":448,"o":0.76994,"h":0.76994,"l":0.76968,"c":0.76969},
{"i":449,"o":0.76967,"h":0.76986,"l":0.76959,"c":0.76981},
{"i":450,"o":0.76982,"h":0.76992,"l":0.76981,"c":0.76986},
{"i":451,"o":0.76984,"h":0.76992,"l":0.76977,"c":0.76989},
{"i":452,"o":0.76986,"h":0.76986,"l":0.76981,"c":0.76981},
{"i":453,"o":0.76981,"h":0.77008,"l":0.76981,"c":0.77006},
{"i":454,"o":0.77005,"h":0.77008,"l":0.76988,"c":0.77003},
{"i":455,"o":0.77005,"h":0.77057,"l":0.77004,"c":0.7705},
{"i":456,"o":0.7705,"h":0.77062,"l":0.77044,"c":0.7705},
{"i":457,"o":0.7705,"h":0.77068,"l":0.77048,"c":0.77057},
{"i":458,"o":0.77057,"h":0.77073,"l":0.7705,"c":0.77058},
{"i":459,"o":0.77056,"h":0.77061,"l":0.77056,"c":0.77059},
{"i":460,"o":0.77058,"h":0.77069,"l":0.77058,"c":0.77068},
{"i":461,"o":0.77069,"h":0.7709,"l":0.77068,"c":0.77089},
{"i":462,"o":0.7709,"h":0.77101,"l":0.77086,"c":0.77097},
{"i":463,"o":0.77096,"h":0.77103,"l":0.77086,"c":0.77097},
{"i":464,"o":0.77097,"h":0.77098,"l":0.77095,"c":0.77096}
]},
"layer":[
{"mark":{"type":"rule","color":"black","strokeWidth":1},
 "encoding":{
  "x":{"field":"i","type":"quantitative","scale":{"domain":[-0.375,582.625],"nice":false,"zero":false},
   "axis":{"orient":"bottom","values":[0,24,48,72,96,120,144,168,192,216,240,264,288,312,336,360,384,408,432,456],
    "labelExpr":"['10 Jun 2021','10 Jun 19:10','10 Jun 21:10','10 Jun 23:10','11 Jun 01:10','11 Jun 03:10','11 Jun 05:10','11 Jun 07:10','11 Jun 09:10','11 Jun 11:10','11 Jun 13:10','11 Jun 15:10','11 Jun 17:10','11 Jun 19:10','11 Jun 21:10','11 Jun 23:10','14 Jun 01:10','14 Jun 03:10','14 Jun 05:10','14 Jun 07:10'][round(datum.value/24)]",
    "labelAlign":"left","labelBaseline":"top","labelPadding":3,"labelFont":"DejaVu Sans","labelFontSize":11.5,"labelColor":"black",
    "tickColor":"black","tickSize":3,"domain":false,"grid":false,"title":null,"labelOverlap":false,"labelFlush":false,"labelBound":false}},
  "y":{"field":"l","type":"quantitative","scale":{"domain":[0.768502,0.778014],"nice":false,"zero":false},
   "axis":{"orient":"right","values":[0.7777,0.77725,0.7768,0.77635,0.7759,0.77545,0.775,0.77455,0.7741,0.77365,0.7732,0.77275,0.7723,0.77185,0.7714,0.7705,0.77005,0.7696,0.76915,0.7687],
    "format":".5f","labelFont":"DejaVu Sans","labelFontSize":11,"labelColor":"black","tickColor":"black","tickSize":4,"labelPadding":2,
    "domain":false,"grid":false,"title":null,"labelOverlap":false}},
  "y2":{"field":"h"}}},
{"mark":{"type":"bar","width":2,"stroke":"black","strokeWidth":1},
 "encoding":{
  "x":{"field":"i","type":"quantitative","axis":{"title":null}},
  "y":{"field":"o","type":"quantitative","axis":{"title":null}},
  "y2":{"field":"c"},
  "fill":{"condition":{"test":"datum.c >= datum.o","value":"#32CD32"},"value":"#FF0000"}}},
{"data":{"values":[{}]},"mark":{"type":"rule","color":"#FF0000","strokeWidth":3},
 "encoding":{"x":{"datum":201.5,"type":"quantitative","axis":{"title":null}},"x2":{"datum":582.625},"y":{"datum":0.7773,"type":"quantitative","axis":{"title":null}}}},
{"data":{"values":[{}]},"mark":{"type":"rule","color":"#FF0000","strokeWidth":1},
 "encoding":{"x":{"datum":198.4,"type":"quantitative","axis":{"title":null}},"x2":{"datum":201.5},"y":{"datum":0.7773,"type":"quantitative","axis":{"title":null}}}},
{"data":{"values":[{}]},"mark":{"type":"rect","fill":"white","stroke":"#FF0000","strokeWidth":1},
 "encoding":{"x":{"datum":179.8,"type":"quantitative","axis":{"title":null}},"x2":{"datum":198.4},"y":{"datum":0.777397,"type":"quantitative","axis":{"title":null}},"y2":{"datum":0.777195}}},
{"data":{"values":[{}]},"mark":{"type":"text","text":"0.77730","color":"#FF0000","font":"Liberation Sans","fontSize":20,"align":"center","baseline":"middle"},
 "encoding":{"x":{"datum":189.1,"type":"quantitative","axis":{"title":null}},"y":{"datum":0.777293,"type":"quantitative","axis":{"title":null}}}},
{"data":{"values":[{}]},"mark":{"type":"text","text":"institucionální nabídka o středním objemu","color":"#FF0000","font":"Liberation Sans","fontSize":16,"align":"left","baseline":"middle"},
 "encoding":{"x":{"datum":87.6,"type":"quantitative","axis":{"title":null}},"y":{"datum":0.777374,"type":"quantitative","axis":{"title":null}}}},
{"data":{"values":[{}]},"mark":{"type":"point","filled":false,"stroke":"black","strokeWidth":4,"opacity":1,"size":4489,
 "shape":"M0.776,0 L0.761,0.195 L0.717,0.383 L0.645,0.556 L0.549,0.707 L0.431,0.831 L0.297,0.924 L0.151,0.981 L0,1 L-0.151,0.981 L-0.297,0.924 L-0.431,0.831 L-0.549,0.707 L-0.645,0.556 L-0.717,0.383 L-0.761,0.195 L-0.776,0 L-0.761,-0.195 L-0.717,-0.383 L-0.645,-0.556 L-0.549,-0.707 L-0.431,-0.831 L-0.297,-0.924 L-0.151,-0.981 L0,-1 L0.151,-0.981 L0.297,-0.924 L0.431,-0.831 L0.549,-0.707 L0.645,-0.556 L0.717,-0.383 L0.761,-0.195 Z"},
 "encoding":{"x":{"datum":208.7,"type":"quantitative","axis":{"title":null}},"y":{"datum":0.777401,"type":"quantitative","axis":{"title":null}}}},
{"data":{"values":[{}]},"mark":{"type":"rule","color":"black","strokeWidth":4,"strokeCap":"round"},
 "encoding":{"x":{"datum":222.4,"type":"quantitative","axis":{"title":null}},"x2":{"datum":329.05},"y":{"datum":0.777256,"type":"quantitative","axis":{"title":null}},"y2":{"datum":0.77155}}},
{"data":{"values":[{}]},"mark":{"type":"rule","color":"black","strokeWidth":4,"strokeCap":"round"},
 "encoding":{"x":{"datum":317.8,"type":"quantitative","axis":{"title":null}},"x2":{"datum":329.05},"y":{"datum":0.771822,"type":"quantitative","axis":{"title":null}},"y2":{"datum":0.77155}}},
{"data":{"values":[{}]},"mark":{"type":"rule","color":"black","strokeWidth":4,"strokeCap":"round"},
 "encoding":{"x":{"datum":327.55,"type":"quantitative","axis":{"title":null}},"x2":{"datum":329.05},"y":{"datum":0.772018,"type":"quantitative","axis":{"title":null}},"y2":{"datum":0.77155}}},
{"data":{"values":[{}]},"mark":{"type":"point","shape":"triangle-down","filled":true,"color":"black","opacity":1,"size":28},
 "encoding":{"x":{"datum":1.0,"type":"quantitative","axis":{"title":null}},"y":{"datum":0.777917,"type":"quantitative","axis":{"title":null}}}},
{"data":{"values":[{}]},"mark":{"type":"text","text":"AUDUSD_ecn,M5  0.77097 0.77098 0.77095 0.77096","color":"black","font":"DejaVu Sans","fontSize":11,"align":"left","baseline":"middle"},
 "encoding":{"x":{"datum":4.0,"type":"quantitative","axis":{"title":null}},"y":{"datum":0.777917,"type":"quantitative","axis":{"title":null}}}},
{"data":{"values":[{}]},"mark":{"type":"text","text":"Institucionální objednávky pro trh: AUDUSD","color":"black","font":"DejaVu Sans","fontSize":10.5,"align":"left","baseline":"middle"},
 "encoding":{"x":{"datum":0.9,"type":"quantitative","axis":{"title":null}},"y":{"datum":0.777812,"type":"quantitative","axis":{"title":null}}}},
{"data":{"values":[{}]},"mark":{"type":"text","text":"Expertní výhledy vydané: 11.06.2021","color":"black","font":"DejaVu Sans","fontSize":10.5,"align":"left","baseline":"middle"},
 "encoding":{"x":{"datum":0.9,"type":"quantitative","axis":{"title":null}},"y":{"datum":0.777707,"type":"quantitative","axis":{"title":null}}}},
{"data":{"values":[{}]},"mark":{"type":"text","text":"FXstreet.cz","color":"black","font":"DejaVu Sans","fontSize":10.5,"align":"left","baseline":"middle"},
 "encoding":{"x":{"datum":0.9,"type":"quantitative","axis":{"title":null}},"y":{"datum":0.777601,"type":"quantitative","axis":{"title":null}}}},
{"data":{"values":[{}]},"mark":{"type":"rect","fill":"black","clip":false},
 "encoding":{"x":{"datum":582.7,"type":"quantitative","axis":{"title":null}},"x2":{"datum":596.9},"y":{"datum":0.771019,"type":"quantitative","axis":{"title":null}},"y2":{"datum":0.770901}}},
{"data":{"values":[{}]},"mark":{"type":"text","text":"0.77096","color":"white","font":"DejaVu Sans","fontSize":11,"align":"left","baseline":"middle","clip":false},
 "encoding":{"x":{"datum":584.1,"type":"quantitative","axis":{"title":null}},"y":{"datum":0.77096,"type":"quantitative","axis":{"title":null}}}}
]
}
